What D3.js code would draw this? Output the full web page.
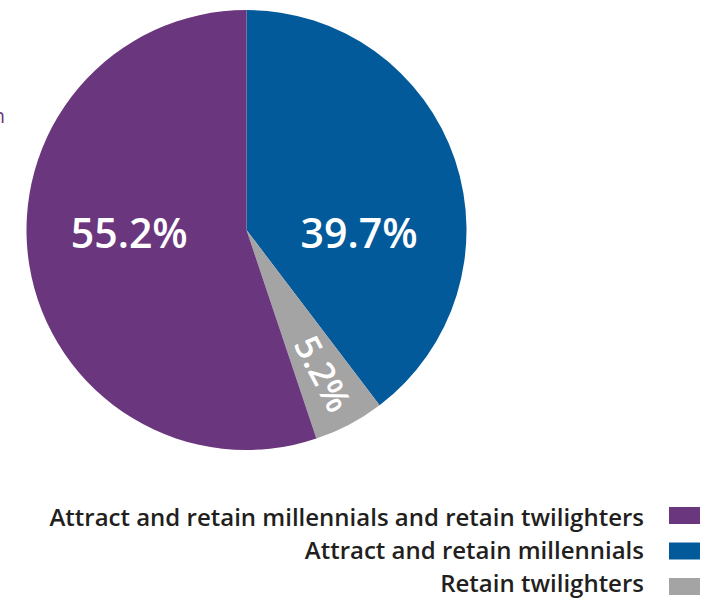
<!DOCTYPE html>
<html>
<head>
<meta charset="utf-8">
<script src="https://cdn.jsdelivr.net/npm/d3@7"></script>
<style>
  html, body { margin: 0; padding: 0; background: #ffffff; }
  svg { display: block; }
  text { font-family: "Open Sans", "Noto Sans", sans-serif; }
</style>
</head>
<body>
<svg id="chart" width="724" height="599"></svg>
<script>
// Share of respondents by workforce strategy (%)
const categories = [
  "Attract and retain millennials",
  "Retain twilighters",
  "Attract and retain millennials and retain twilighters"
];
const values = [39.7, 5.2, 55.2];
const colors = ["#035a9b", "#a5a4a5", "#6a367d"];

// Legend order, top to bottom
const legendOrder = [
  "Attract and retain millennials and retain twilighters",
  "Attract and retain millennials",
  "Retain twilighters"
];

const data = categories.map((c, i) => ({ category: c, value: values[i] }));

const svg = d3.select("#chart");
const cx = 246.5, cy = 230, radius = 220;

const color = d3.scaleOrdinal().domain(categories).range(colors);

const pie = d3.pie().sort(null).value(d => d.value);
const arcs = pie(data);
const arc = d3.arc().innerRadius(0).outerRadius(radius);

const g = svg.append("g").attr("transform", `translate(${cx},${cy})`);

g.selectAll("path.slice")
  .data(arcs)
  .join("path")
  .attr("class", "slice")
  .attr("d", arc)
  .attr("fill", d => color(d.data.category));

// Value labels
const fmt = v => d3.format(".1f")(v) + "%";
const deg = a => a * 180 / Math.PI;

arcs.forEach(d => {
  const mid = (d.startAngle + d.endAngle) / 2;
  const small = (d.endAngle - d.startAngle) < 0.5;
  if (!small) {
    // large slices: labels sit on the horizontal through the centre
    const x = Math.sin(mid) * radius * 0.54;
    g.append("text")
      .attr("x", x)
      .attr("y", 4)
      .attr("dy", "0.35em")
      .attr("text-anchor", "middle")
      .attr("fill", "#ffffff")
      .attr("font-size", 41)
      .attr("font-weight", 600)
      .text(fmt(d.data.value));
  } else {
    // narrow slice: label runs radially outward
    const r = radius * 0.74;
    const x = Math.sin(mid) * r;
    const y = -Math.cos(mid) * r;
    g.append("text")
      .attr("transform", `translate(${x},${y}) rotate(${deg(mid) - 90})`)
      .attr("dy", "0.35em")
      .attr("text-anchor", "middle")
      .attr("fill", "#ffffff")
      .attr("font-size", 35)
      .attr("font-weight", 600)
      .text(fmt(d.data.value));
  }
});

// Clipped heading fragment at the left edge
svg.append("text")
  .attr("x", 5)
  .attr("y", 123)
  .attr("text-anchor", "end")
  .attr("fill", "#6a367d")
  .attr("font-size", 20)
  .text("n");

// Legend, right-aligned with swatches on the right
const swatchY = d3.scalePoint().domain(legendOrder).range([515.5, 586.5]);
const labelY = d3.scalePoint().domain(legendOrder).range([526, 592]);
const textRight = 644, swX = 669, swW = 31, swH = 17;

const legend = svg.append("g");
legendOrder.forEach(c => {
  legend.append("rect")
    .attr("x", swX)
    .attr("y", swatchY(c) - swH / 2)
    .attr("width", swW)
    .attr("height", swH)
    .attr("fill", color(c));
  legend.append("text")
    .attr("class", "legend-label")
    .attr("x", textRight)
    .attr("y", labelY(c))
    .attr("text-anchor", "end")
    .attr("fill", "#231f20")
    .attr("font-size", 24)
    .attr("font-weight", 600)
    .text(c);
});
</script>
</body>
</html>
